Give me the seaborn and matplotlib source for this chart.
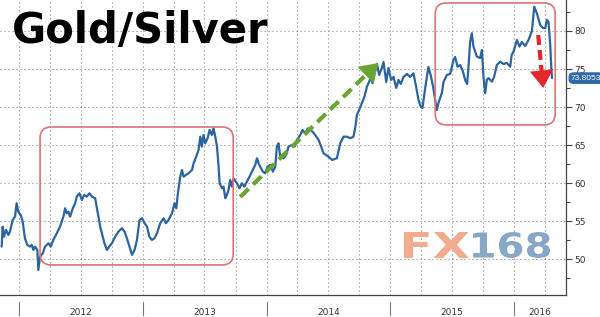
import numpy as np
import pandas as pd
import matplotlib
matplotlib.use("Agg")
import matplotlib.pyplot as plt
import matplotlib.dates as mdates
from matplotlib.ticker import MultipleLocator, NullFormatter
from matplotlib.patches import FancyBboxPatch, PathPatch
from matplotlib.textpath import TextPath
from matplotlib.font_manager import FontProperties
from matplotlib.transforms import IdentityTransform, Affine2D, blended_transform_factory
import seaborn as sns

# ---------------- data ----------------
title_text = "Gold/Silver"
last_label = "73.8053"
year_labels = [2012, 2013, 2014, 2015, 2016]

# time as decimal years
time_years = [
    2011.860, 2011.868, 2011.879, 2011.895, 2011.914, 2011.927, 2011.949, 2011.968, 2011.981, 2011.994,
    2012.014, 2012.030, 2012.048, 2012.067, 2012.089, 2012.103, 2012.116, 2012.129, 2012.148, 2012.156,
    2012.170, 2012.192, 2012.210, 2012.237, 2012.256, 2012.277, 2012.305, 2012.331, 2012.358, 2012.372,
    2012.385, 2012.398, 2012.412, 2012.434, 2012.453, 2012.466, 2012.487, 2012.507, 2012.525, 2012.547,
    2012.568, 2012.588, 2012.614, 2012.641, 2012.655, 2012.668, 2012.689, 2012.709, 2012.727, 2012.749,
    2012.776, 2012.802, 2012.830, 2012.851, 2012.870, 2012.891, 2012.911, 2012.932, 2012.951, 2012.972,
    2012.992, 2013.013, 2013.032, 2013.051, 2013.072, 2013.093, 2013.113, 2013.139, 2013.166, 2013.185,
    2013.206, 2013.234, 2013.255, 2013.269, 2013.282, 2013.301, 2013.315, 2013.328, 2013.347, 2013.368,
    2013.396, 2013.409, 2013.430, 2013.449, 2013.463, 2013.476, 2013.489, 2013.503, 2013.522, 2013.538,
    2013.557, 2013.570, 2013.584, 2013.598, 2013.611, 2013.619, 2013.638, 2013.651, 2013.665, 2013.678,
    2013.691, 2013.705, 2013.719, 2013.732, 2013.759, 2013.780, 2013.800, 2013.818, 2013.840, 2013.861,
    2013.880, 2013.907, 2013.921, 2013.934, 2013.947, 2013.969, 2013.988, 2014.006, 2014.028, 2014.050,
    2014.069, 2014.082, 2014.095, 2014.109, 2014.136, 2014.158, 2014.176, 2014.204, 2014.225, 2014.244,
    2014.271, 2014.289, 2014.311, 2014.333, 2014.352, 2014.370, 2014.392, 2014.419, 2014.440, 2014.459,
    2014.499, 2014.529, 2014.567, 2014.594, 2014.621, 2014.648, 2014.675, 2014.701, 2014.715, 2014.729,
    2014.747, 2014.769, 2014.790, 2014.810, 2014.828, 2014.844, 2014.855, 2014.871, 2014.891, 2014.909,
    2014.931, 2014.944, 2014.966, 2014.984, 2015.006, 2015.025, 2015.047, 2015.065, 2015.084, 2015.106,
    2015.133, 2015.160, 2015.186, 2015.208, 2015.227, 2015.246, 2015.259, 2015.281, 2015.307, 2015.327,
    2015.345, 2015.362, 2015.375, 2015.388, 2015.416, 2015.429, 2015.456, 2015.483, 2015.510, 2015.523,
    2015.542, 2015.564, 2015.585, 2015.604, 2015.620, 2015.631, 2015.644, 2015.658, 2015.671, 2015.699,
    2015.725, 2015.739, 2015.752, 2015.766, 2015.779, 2015.792, 2015.820, 2015.838, 2015.860, 2015.887,
    2015.914, 2015.941, 2015.968, 2015.980, 2015.994, 2016.022, 2016.043, 2016.062, 2016.089, 2016.116,
    2016.143, 2016.162, 2016.183, 2016.210, 2016.232, 2016.251, 2016.264, 2016.277, 2016.291, 2016.299,
    2016.305,
]

# gold / silver ratio
ratio = [
    51.66, 54.28, 52.97, 53.85, 53.19, 53.63, 55.16, 55.60, 57.36, 56.26,
    55.82, 54.94, 52.76, 51.88, 51.66, 51.88, 51.22, 51.66, 51.22, 48.59,
    50.34, 50.79, 51.66, 52.10, 51.66, 52.54, 53.42, 54.28, 55.60, 56.70,
    56.04, 56.26, 55.60, 56.70, 57.36, 58.23, 58.67, 57.79, 58.45, 58.23,
    58.67, 58.23, 58.02, 55.60, 54.28, 53.42, 52.10, 51.22, 51.66, 52.10,
    52.97, 53.63, 54.07, 53.63, 52.76, 51.66, 50.57, 51.22, 52.54, 55.16,
    55.39, 54.73, 54.28, 52.97, 52.54, 52.76, 53.42, 54.73, 55.39, 54.73,
    55.16, 56.04, 57.36, 56.70, 58.67, 60.85, 61.73, 60.85, 61.08, 61.30,
    61.73, 62.61, 63.48, 64.36, 66.11, 64.80, 66.33, 65.24, 65.90, 66.99,
    66.33, 67.21, 66.11, 64.80, 62.17, 59.99, 59.33, 59.54, 58.02, 58.45,
    59.11, 60.42, 59.54, 60.64, 59.99, 59.33, 59.99, 59.54, 60.20, 60.85,
    61.51, 62.39, 63.27, 62.61, 62.17, 61.51, 61.30, 62.17, 62.39, 61.51,
    62.17, 64.80, 65.24, 63.48, 63.27, 63.71, 64.80, 65.02, 64.80, 65.68,
    66.33, 66.99, 66.56, 67.21, 66.99, 66.77, 66.33, 65.68, 64.80, 63.93,
    63.48, 63.05, 63.27, 65.24, 66.11, 66.11, 65.90, 66.11, 67.25, 68.96,
    69.62, 70.50, 71.37, 72.68, 73.34, 73.99, 73.13, 74.44, 75.66, 74.22,
    75.14, 75.93, 73.30, 75.14, 73.56, 73.96, 72.51, 73.56, 73.04, 73.96,
    74.35, 73.96, 74.44, 72.64, 70.93, 70.01, 69.88, 72.51, 75.27, 74.09,
    72.64, 70.93, 69.62, 70.54, 71.85, 73.30, 74.22, 74.35, 76.19, 76.58,
    75.31, 75.53, 74.74, 73.56, 73.04, 75.31, 78.55, 79.70, 77.94, 76.62,
    76.45, 77.50, 73.99, 71.81, 73.56, 73.82, 73.34, 73.96, 75.53, 75.97,
    75.66, 75.80, 75.31, 76.85, 77.24, 78.82, 77.94, 78.55, 78.03, 78.82,
    80.00, 83.19, 82.33, 80.79, 80.39, 80.39, 81.45, 81.18, 78.16, 75.31,
    73.8053,
]


def year_to_date(t):
    y = int(np.floor(t))
    start = pd.Timestamp(year=y, month=1, day=1)
    n = (pd.Timestamp(year=y + 1, month=1, day=1) - start).days
    return start + pd.Timedelta(days=(t - y) * n)


df = pd.DataFrame({"date": [year_to_date(t) for t in time_years], "ratio": ratio})

# ---------------- style ----------------
sns.set_style("white")
plt.rcParams["font.family"] = ["DejaVu Sans"]

LINE = "#2b64a1"
GRID = "#8a8a8a"
AXC = "#444444"
W, H = 600, 317

fig = plt.figure(figsize=(6, 3.17), dpi=100)
ax = fig.add_axes([0, 22 / H, 566 / W, 295 / H])

sns.lineplot(data=df, x="date", y="ratio", color=LINE, linewidth=1.6, ax=ax, zorder=5)

xmin, xmax = pd.Timestamp("2011-11-06"), pd.Timestamp("2016-06-02")
ax.set_xlim(xmin, xmax)
ax.set_ylim(45.3, 84.07)
ax.set_xlabel("")
ax.set_ylabel("")

# y axis on the right
ax.yaxis.tick_right()
ax.yaxis.set_major_locator(MultipleLocator(5))
ax.yaxis.set_minor_locator(MultipleLocator(2.5))
ax.tick_params(axis="y", which="major", direction="out", length=4, width=0.8,
               color=AXC, labelsize=6.5, labelcolor="#333333", pad=2)
ax.tick_params(axis="y", which="minor", direction="out", length=3, width=0.8, color=AXC)

# x axis: quarterly grid, monthly minor ticks, no tick labels
ax.xaxis.set_major_locator(mdates.MonthLocator(bymonth=[1, 4, 7, 10]))
ax.xaxis.set_minor_locator(mdates.MonthLocator())
ax.xaxis.set_major_formatter(NullFormatter())
ax.tick_params(axis="x", which="both", direction="out", length=3, width=0.8, color=AXC)

for s in ["left", "top"]:
    ax.spines[s].set_visible(False)
for s in ["right", "bottom"]:
    ax.spines[s].set_visible(True)
    ax.spines[s].set_color(AXC)
    ax.spines[s].set_linewidth(0.9)

ax.grid(True, which="major", axis="both", linestyle=(0, (1, 2.6)), color=GRID, linewidth=0.8)
ax.set_axisbelow(True)

# year separators and labels below the axis
bt = blended_transform_factory(ax.transData, ax.transAxes)
for y in year_labels:
    d = pd.Timestamp(year=y, month=1, day=1)
    ax.plot([d, d], [-0.024, -0.068], transform=bt, color="#777777", lw=0.8, clip_on=False)
    left = max(d, xmin)
    right = min(pd.Timestamp(year=y + 1, month=1, day=1), xmax)
    mid = left + (right - left) / 2
    ax.text(mid, -0.058, str(y), transform=bt, ha="center", va="center",
            fontsize=6.5, color="#333333")

# last-value tag
ax.annotate(last_label, xy=(1.0, ratio[-1]), xycoords=("axes fraction", "data"),
            xytext=(3.5, 0), textcoords="offset points", ha="left", va="center",
            fontsize=6, color="white", zorder=10, annotation_clip=False,
            family=["Liberation Sans", "DejaVu Sans"],
            bbox=dict(boxstyle="round,pad=0.28,rounding_size=0.6", fc="#2d6aa8", ec="none"))

# title
fig.text(12 / W, 1 - 43 / H, title_text, fontsize=30, fontweight="bold",
         color="black", ha="left", va="baseline")


# watermark drawn as text paths stretched into their boxes (pixel coords, top-left origin)
def stretched_text(s, x0, y_top, x1, y_bot, color):
    fp = FontProperties(family="DejaVu Sans", weight="bold")
    tp = TextPath((0, 0), s, size=10, prop=fp)
    ext = tp.get_extents()
    tr = (Affine2D().translate(-ext.x0, -ext.y0)
          .scale((x1 - x0) / ext.width, (y_bot - y_top) / ext.height)
          .translate(x0, H - y_bot))
    patch = PathPatch(tr.transform_path(tp), fc=color, ec="none",
                      transform=IdentityTransform(), zorder=1)
    fig.add_artist(patch)


stretched_text("FX", 404, 232, 469, 258, "#f1ab8d")
stretched_text("168", 473, 232, 550, 258, "#86a8c6")


# rounded highlight boxes (corners given in data space)
def rounded_box(t0, v0, t1, v1, color="#e07272"):
    p0 = ax.transData.transform((mdates.date2num(year_to_date(t0)), v0))
    p1 = ax.transData.transform((mdates.date2num(year_to_date(t1)), v1))
    x0, y0 = min(p0[0], p1[0]), min(p0[1], p1[1])
    w, h = abs(p1[0] - p0[0]), abs(p1[1] - p0[1])
    patch = FancyBboxPatch((x0, y0), w, h, boxstyle="round,pad=0,rounding_size=11",
                           transform=IdentityTransform(), fc="none", ec=color, lw=1.2,
                           zorder=6, clip_on=False)
    fig.add_artist(patch)


rounded_box(2012.170, 67.38, 2013.729, 49.25)
rounded_box(2015.362, 83.68, 2016.331, 67.65)


# dashed arrows
def dashed_arrow(t0, v0, t1, v1, color, lw, dash, head_scale):
    d0 = mdates.date2num(year_to_date(t0))
    d1 = mdates.date2num(year_to_date(t1))
    p0 = np.array(ax.transData.transform((d0, v0)))
    p1 = np.array(ax.transData.transform((d1, v1)))
    u = (p1 - p0) / np.linalg.norm(p1 - p0)
    pe = p1 - u * head_scale * 0.9
    de = ax.transData.inverted().transform(pe)
    ax.plot([d0, de[0]], [v0, de[1]], color=color, lw=lw, linestyle=(0, dash),
            solid_capstyle="butt", dash_capstyle="butt", zorder=7)
    ps = p1 - u * head_scale * 1.2
    ds = ax.transData.inverted().transform(ps)
    ax.annotate("", xy=(d1, v1), xytext=(ds[0], ds[1]),
                arrowprops=dict(arrowstyle="-|>,head_length=0.9,head_width=0.6",
                                mutation_scale=head_scale, color=color, lw=0,
                                shrinkA=0, shrinkB=0), zorder=8)


dashed_arrow(2013.786, 58.19, 2014.901, 75.79, "#6aa532", 3.0, (2.8, 1.5), 14)
dashed_arrow(2016.194, 79.47, 2016.234, 72.51, "#e5262a", 3.0, (2.4, 1.2), 14)

fig.savefig("out.png", dpi=100)
